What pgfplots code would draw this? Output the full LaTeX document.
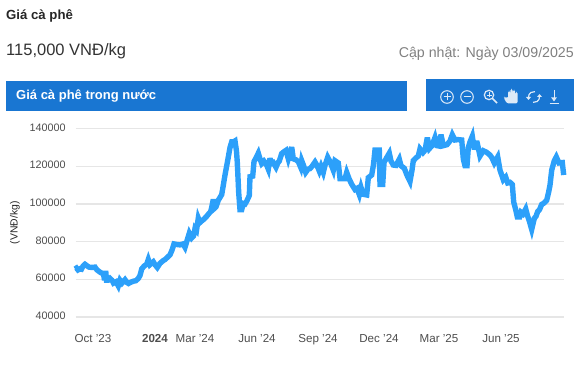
\documentclass[border=0pt]{standalone}
\usepackage{fontspec}
\setmainfont{Liberation Sans}
\usepackage{pgfplots}
\pgfplotsset{compat=1.18}
\definecolor{hdr}{HTML}{1976D2}
\definecolor{ln}{HTML}{2CA0FA}
\definecolor{grd}{HTML}{E6E6E6}
\definecolor{tk}{HTML}{4D4D4D}
\begin{document}
\begin{tikzpicture}[x=1pt,y=1pt]
\path[use as bounding box] (0,0) rectangle (585,364);
% header (y measured from top: 364-y)
\node[anchor=base west,inner sep=0,text=black!85,font=\fontsize{13.2}{16}\selectfont\bfseries] at (6,344.5) {Giá cà phê};
\node[anchor=base west,inner sep=0,text=black!80,font=\fontsize{16.5}{18}\selectfont] at (6,308) {115,000 VNĐ/kg};
\node[anchor=base east,inner sep=0,text=black!50,font=\fontsize{14.2}{15}\selectfont] at (574,306) {Cập nhật: Ngày 03/09/2025};
\fill[hdr] (6,253) rectangle (407,283);
\fill[hdr] (426,253) rectangle (574,285);
\node[anchor=base west,inner sep=0,text=white,font=\fontsize{13}{15}\selectfont\bfseries] at (16,264) {Giá cà phê trong nước};
% toolbar icons
\begin{scope}[draw=white!85!hdr,line width=1pt,white!85!hdr]
\draw (447,267) circle (6.3); \draw (443.5,267)--(450.5,267) (447,263.5)--(447,270.5);
\draw (467,267) circle (6.3); \draw (463.5,267)--(470.5,267);
\draw[line width=1.2pt] (489,269) circle (4.7); \draw[line width=1.5pt] (492.4,265.6)--(497,261);
\draw[line width=.8pt] (486.5,269)--(491.5,269) (489,266.5)--(489,271.5);
\fill[rounded corners=1.5pt] (507,260.5) -- (503.5,266.5) -- (505,267.5) -- (508,265.5) -- (508,273) -- (510,273) -- (510,267) -- (510.5,275) -- (512.5,275) -- (512.5,267) -- (513,274) -- (515,274) -- (515,267) -- (515.5,272) -- (517.5,272) -- (517.5,260.5) -- cycle;
\draw[line width=1.2pt] (528.5,266.5) arc (185:80:5.5) (539.5,267.5) arc (5:-100:5.5);
\fill (526,267) -- (531,267) -- (528.5,264) -- cycle;
\fill (537,267) -- (542,267) -- (539.5,270) -- cycle;
\draw (554,274)--(554,264.5); \fill (551.2,266.5)--(556.8,266.5)--(554,262.5)--cycle;
\draw (549.5,260.5)--(558.5,260.5);
\end{scope}
\begin{axis}[
  at={(75.7pt,47pt)},anchor=south west,
  scale only axis,width=488pt,height=188.3pt,
  xmin=75.7,xmax=563.7,ymin=40000,ymax=140000,
  axis line style={draw=none},
  major tick style={draw=none},
  clip=false,
  ymajorgrids,grid style={grd,line width=1.1pt},
  ytick={40000,60000,80000,100000,120000,140000},
  scaled y ticks=false,
  /pgf/number format/assume math mode=true,
  /pgf/number format/fixed,
  /pgf/number format/1000 sep={},
  yticklabel style={text=tk,font=\fontsize{10.8}{12}\selectfont,anchor=east,yshift=1.2pt,xshift=-6.5pt},
  xtick={93,155,195,257,318,379,439,501},
  xticklabels={Oct '23,\textbf{2024},Mar '24,Jun '24,Sep '24,Dec '24,Mar '25,Jun '25},
  xticklabel style={text=tk,font=\fontsize{11.6}{12}\selectfont,anchor=base,yshift=-25pt},
  ylabel={(VNĐ/kg)},
  ylabel style={font=\fontsize{10.4}{11}\selectfont,text=black!85},
  ylabel shift=3pt,
]
\addplot[ln,line width=5.4pt,line join=miter,miter limit=4] table {
x y
75 65500
76.5 66000
78 65000
80 65600
81.5 65400
83 67000
85 68000
87 67200
89 66500
92 66300
95 66500
97 65000
99 64200
101 63500
103 63000
103.8 62000
104.5 59500
105.7 64500
106.5 59500
108 59500
110 60500
112 59500
113.5 58000
116 58700
118.3 56500
120 59500
122 58000
125 59800
127 58300
128.5 57800
131 58500
133.3 59000
136 59300
138.3 60500
140 62000
141.7 65500
144 67000
146.7 68000
148.3 70500
150 67800
153.3 69300
155 67800
157.3 66300
160 68500
163.3 70000
165 70500
168 72000
170 73000
172 75500
174 78800
177 78500
180 78300
183 78800
185 77000
187 80500
189.3 84500
191.7 82000
193.5 83000
195 87000
196.5 86000
198.3 92500
200 90200
201.7 91000
204 92000
206.7 93500
209 95000
210.7 96000
212 99000
213.3 102500
215 98000
216 98500
218.3 102000
221.7 105000
223 109000
225 115400
228 124000
230 130000
231.7 133000
233.5 133000
235 133500
236.5 128000
237.3 122000
238 114000
238.7 106000
240 97000
241.7 97000
243.3 100300
245 100000
246.7 101500
249.3 104500
250 114500
252.7 114800
254 122500
256 124500
258.3 127000
260 124000
261.7 121500
264 122800
266 121500
268.3 118500
270 124300
271.5 121500
273.3 122000
276 119500
278 122000
279.3 122800
281.7 126800
284 127800
286 128500
288.3 124000
290 127000
291.7 130200
293.3 124000
296 123500
298.3 122500
300.7 119500
301.7 123000
303.5 120500
305.7 116800
308 118500
310 118800
312 120000
315 122300
317 120500
319.3 117500
321 120000
323.3 116800
325 120500
327.7 124800
330 122500
333.3 118000
335 123000
338.3 121800
340 113500
342 113500
345 113500
346.7 116800
349 113500
351.7 110500
355 107700
357 108300
359.3 105000
361 108800
363 105200
366.7 104800
368.3 114000
371.7 115400
373.5 121000
375 128700
379.3 128700
380 110400
382.7 110400
384 122000
386 124000
389.3 127000
391 122800
393.3 120700
396 120500
399.3 123800
401 120300
404.3 119000
407 115300
410 112000
412 118000
413.3 123000
416 124500
418.3 125500
420 129300
423 127300
425 128500
427.3 135300
429.5 129500
432 131000
435 135300
437 131000
439 130800
441 136800
443.3 131000
447 131500
450 133500
452.3 136800
455 134000
458 134200
461.7 134000
463.3 124000
465 120300
467 120300
468.3 130000
470 133000
472.3 136000
474.3 129000
476.7 133500
478 130500
480 125500
483.3 128300
486.5 127500
490 126000
492 124500
494.3 121800
497.7 125000
500 118000
503.3 112900
505.7 114300
507.7 111200
510 111500
512.3 110400
513.7 101000
515.7 97000
517.3 93200
519.7 93200
521 95600
523 94700
525.7 97400
527.5 93800
529.3 91000
531.7 86500
534.3 92400
536 93500
537.7 96000
539.5 97000
541.7 99800
544 100500
546.7 102000
548.5 106000
550 110000
551.7 118000
554.3 123000
556.3 125000
559 121800
562.3 122000
563.7 115400
};
\end{axis}
\end{tikzpicture}
\end{document}
